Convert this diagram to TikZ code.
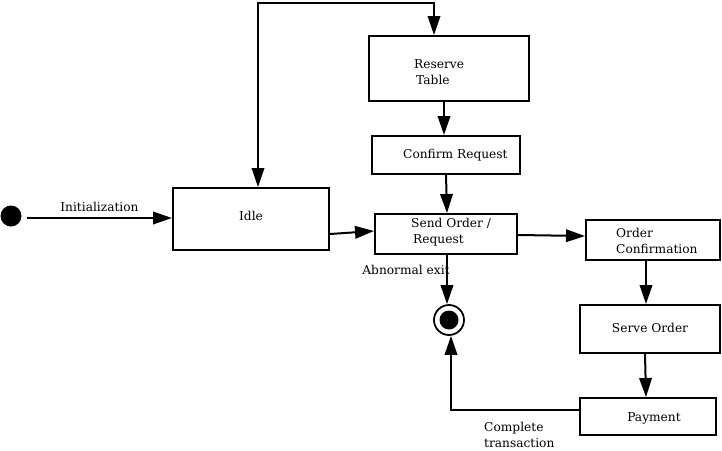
\documentclass[tikz,border=0pt]{standalone}
\usepackage{fontspec}
\setmainfont{DejaVu Serif}
\usetikzlibrary{arrows.meta}
\begin{document}
\begin{tikzpicture}[x=1pt,y=-1pt,
  box/.style={draw, line width=2pt, rectangle, inner sep=0pt},
  txt/.style={font=\fontsize{12.2}{16}\selectfont, inner sep=0pt, align=left},
  tip/.style={Triangle[length=19pt,width=12.5pt]},
  arr/.style={line width=2pt, -{Triangle[length=19pt,width=12.5pt]}},
  ln/.style={line width=2pt}]
\useasboundingbox (0,0) rectangle (722,450);
% states
\node[circle, fill=black, minimum size=21pt, inner sep=0pt] (init) at (11,216) {};
\node[box, minimum width=156pt, minimum height=62pt] (idle) at (251,219) {};
\node[txt] at (251,216) {Idle};
\node[box, minimum width=160pt, minimum height=65pt] (reserve) at (449,68.5) {};
\node[txt, anchor=west] at (414,72) {Reserve\\ \,Table};
\node[box, minimum width=148pt, minimum height=38pt] (confirm) at (446,155) {};
\node[txt, anchor=west] at (403,155) {Confirm Request};
\node[box, minimum width=142pt, minimum height=40pt] (send) at (446,234) {};
\node[txt, anchor=west] at (411,232) {Send Order /\\ \,Request};
\node[box, minimum width=134pt, minimum height=40pt] (ordconf) at (653,240) {};
\node[txt, anchor=west] at (616,241) {Order\\Confirmation};
\node[box, minimum width=140pt, minimum height=48pt] (serve) at (650,329) {};
\node[txt] at (650,328) {Serve Order};
\node[box, minimum width=136pt, minimum height=37pt] (payment) at (648,416.5) {};
\node[txt] at (654,418) {Payment};
\node[circle, draw, line width=1.8pt, minimum size=30pt, inner sep=0pt] (final) at (449,320) {};
\node[circle, fill=black, minimum size=19pt, inner sep=0pt] at (final.center) {};
% transitions
\draw[arr] (27,218) -- node[txt, above=5pt] {Initialization} (idle.west |- 0,218);
\draw[ln, {Triangle[length=19pt,width=12.5pt]}-{Triangle[length=19pt,width=12.5pt]}]
  (idle.north -| 258,0) -- (258,3) -- (434,3) -- (reserve.north -| 434,0);
\draw[arr] (reserve.south -| 444,0) -- (confirm.north -| 444,0);
\draw[arr] (confirm.south -| 446,0) -- (send.north -| 447,0);
\draw[arr] (idle.east |- 0,234) -- (send.west |- 0,231);
\draw[arr] (send.east |- 0,235) -- (ordconf.west |- 0,236);
\draw[arr] (ordconf.south -| 646,0) -- (serve.north -| 646,0);
\draw[arr] (serve.south -| 645,0) -- (payment.north -| 646,0);
\draw[arr] (send.south -| 447,0) -- (final.north -| 447,0);
\node[txt] at (406,270) {Abnormal exit};
\draw[arr] (payment.west |- 0,410) -- (451,410) -- (final.south -| 451,0);
\node[txt, anchor=west] at (484,435) {Complete\\transaction};
\end{tikzpicture}
\end{document}
